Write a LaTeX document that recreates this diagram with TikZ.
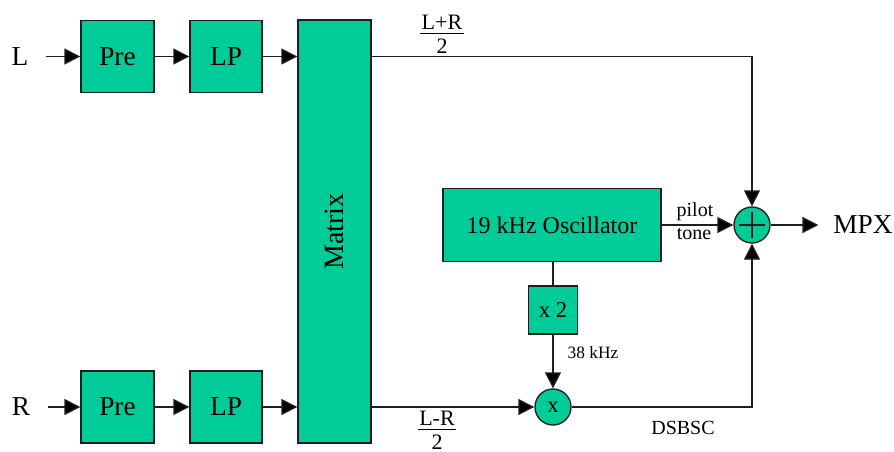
\documentclass[tikz,border=0pt]{standalone}
\usepackage{fontspec}
\setmainfont{Liberation Serif}
\usetikzlibrary{arrows.meta,calc}
\definecolor{boxgreen}{RGB}{0,204,153}
\definecolor{edgec}{RGB}{30,30,30}
\newcommand{\halffrac}[1]{{\offinterlineskip\vbox{\halign{\hfil\kern1.2pt##\kern1.2pt\hfil\cr #1\cr\noalign{\kern2.4pt\hrule height 0.9pt\kern3.6pt}2\cr}}}}
\begin{document}
\begin{tikzpicture}[x=0.75pt,y=-0.75pt,
 blk/.style={draw=edgec,fill=boxgreen,line width=1pt,inner sep=0pt,font=\fontsize{20.5}{24}\selectfont},
 op/.style={circle,draw=edgec,fill=boxgreen,line width=1pt,inner sep=0pt,minimum size=27pt},
 lbl/.style={inner sep=0pt},
 big/.style={font=\fontsize{20.5}{24}\selectfont},
 small/.style={font=\fontsize{15}{17}\selectfont},
 wire/.style={line width=1pt,draw=edgec},
 arr/.style={wire,-{Triangle[length=12pt,width=12pt,fill=black]}}]
\useasboundingbox (0,0) rectangle (894,451);
% input row L
\node[lbl,big] (L) at (20,56.5) {L};
\node[blk,minimum width=54.75pt,minimum height=54pt] (preL) at (117.5,56.5) {Pre};
\node[blk,minimum width=54pt,minimum height=54pt] (lpL) at (226,56.5) {LP};
% input row R
\node[lbl,big] (R) at (21,407) {R};
\node[blk,minimum width=54.75pt,minimum height=54pt] (preR) at (117.5,407) {Pre};
\node[blk,minimum width=54pt,minimum height=54pt] (lpR) at (226,407) {LP};
% matrix
\node[blk,minimum width=54.75pt,minimum height=317.25pt,font=\fontsize{21}{24}\selectfont] (mat) at (334.5,231.5) {\rotatebox{90}{Matrix}};
% oscillator chain
\node[blk,minimum width=163.5pt,minimum height=54.75pt,font=\fontsize{18}{22}\selectfont] (osc) at (552,225) {19 kHz Oscillator};
\node[blk,minimum width=36.75pt,minimum height=36pt,font=\fontsize{17}{20}\selectfont] (x2) at (553,310) {x 2};
\node[op,font=\fontsize{17}{20}\selectfont] (mix) at (553,407) {x};
\node[op] (sum) at (752,225) {};
\draw[wire] ([xshift=-9.75pt]sum.center) -- ([xshift=9.75pt]sum.center);
\draw[wire] ([yshift=-9.75pt]sum.center) -- ([yshift=9.75pt]sum.center);
\node[lbl,big] (mpx) at (863,225) {MPX};
% labels
\node[lbl,small] (pilot) at (695,212) {pilot};
\node[lbl,small] (tone) at (694,234) {tone};
\node[lbl,font=\fontsize{13}{15}\selectfont] (k38) at (593,353) {38 kHz};
\node[lbl,small] (dsb) at (683,428) {DSBSC};
\node[lbl,font=\fontsize{16.5}{19}\selectfont] (lpr) at (442,34) {\halffrac{L+R}};
\node[lbl,font=\fontsize{16.5}{19}\selectfont] (lmr) at (437,430) {\halffrac{L-R}};
% connectors
\draw[arr,shorten <=13pt] (L.east) -- (preL.west);
\draw[arr] (preL) -- (lpL);
\draw[arr] (lpL) -- (lpL -| mat.west);
\draw[arr,shorten <=13pt] (R.east) -- (preR.west);
\draw[arr] (preR) -- (lpR);
\draw[arr] (lpR) -- (lpR -| mat.west);
\draw[arr] (lpL -| mat.east) -| (sum.north);
\draw[arr] (lpR -| mat.east) -- (mix.west);
\draw[arr] (mix.east) -| (sum.south);
\draw[arr] (osc.east) -- (sum.west);
\draw[wire] (x2.north |- osc.south) -- (x2.north);
\draw[arr] (x2.south) -- (mix.north);
\draw[arr,shorten >=11pt] (sum.east) -- (sum.east -| mpx.west);
\end{tikzpicture}
\end{document}
